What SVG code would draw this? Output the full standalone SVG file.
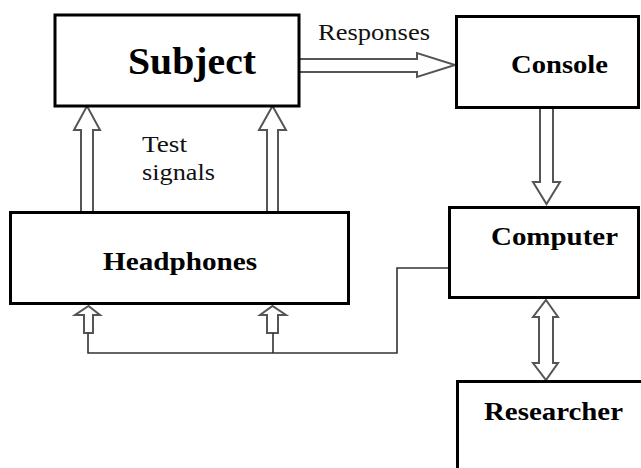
<svg xmlns="http://www.w3.org/2000/svg" width="641" height="468" viewBox="0 0 641 468">
<style>
.box{fill:#fff;stroke:#000;stroke-width:3}
.lbl{font-family:"Liberation Serif",serif;font-weight:bold;fill:#000}
.txt{font-family:"Liberation Serif",serif;fill:#111}
.arr{fill:#fff;stroke:#555;stroke-width:2;stroke-linejoin:miter}
.wire{fill:none;stroke:#333;stroke-width:1.6}
</style>
<rect width="641" height="468" fill="#fff"/>
<g id="connectors">
<polygon class="arr" points="299,59 417,59 417,53 455,65 417,77 417,72 299,72"/>
<polygon class="arr" points="540,108 553,108 553,182 560,182 546.5,204 533,182 540,182"/>
<polygon class="arr" points="546,300 558,317 553,317 553,363 558,363 546,380 533,363 539,363 539,317 533,317"/>
<polygon class="arr" points="81,212 81,130 74,130 87,106 100,130 93,130 93,212"/>
<polygon class="arr" points="267,212 267,130 259,130 272.5,106 286,130 278,130 278,212"/>
<polygon class="arr" points="84,333 84,315 75,315 88.5,306 100,315 93,315 93,333"/>
<polygon class="arr" points="267,333 267,315 260,315 272.5,306 286,315 278,315 278,333"/>
<polyline class="wire" points="88,333 88,353 397,353 397,268 449,268"/>
<line class="wire" x1="273" y1="333" x2="273" y2="353"/>
</g>
<g id="subject">
<rect class="box" x="55" y="15" width="244" height="91"/>
<text class="lbl" x="128" y="74" font-size="38" textLength="128" lengthAdjust="spacingAndGlyphs">Subject</text>
</g>
<g id="console">
<rect class="box" x="456.5" y="16.5" width="182" height="91"/>
<text class="lbl" x="511" y="73" font-size="26" textLength="97" lengthAdjust="spacingAndGlyphs">Console</text>
</g>
<g id="computer">
<rect class="box" x="449.5" y="207.5" width="189" height="90"/>
<text class="lbl" x="491" y="245" font-size="26" textLength="127" lengthAdjust="spacingAndGlyphs">Computer</text>
</g>
<g id="researcher">
<rect class="box" x="457.5" y="381.5" width="190" height="100"/>
<text class="lbl" x="484" y="420" font-size="26" textLength="139" lengthAdjust="spacingAndGlyphs">Researcher</text>
</g>
<g id="headphones">
<rect class="box" x="10.5" y="212.5" width="338" height="91"/>
<text class="lbl" x="103" y="270" font-size="26" textLength="154" lengthAdjust="spacingAndGlyphs">Headphones</text>
</g>
<g id="labels">
<text class="txt" x="318" y="40" font-size="23" textLength="112" lengthAdjust="spacingAndGlyphs">Responses</text>
<text class="txt" x="142" y="152" font-size="24" textLength="45" lengthAdjust="spacingAndGlyphs">Test</text>
<text class="txt" x="142" y="180" font-size="24" textLength="73" lengthAdjust="spacingAndGlyphs">signals</text>
</g>
</svg>
